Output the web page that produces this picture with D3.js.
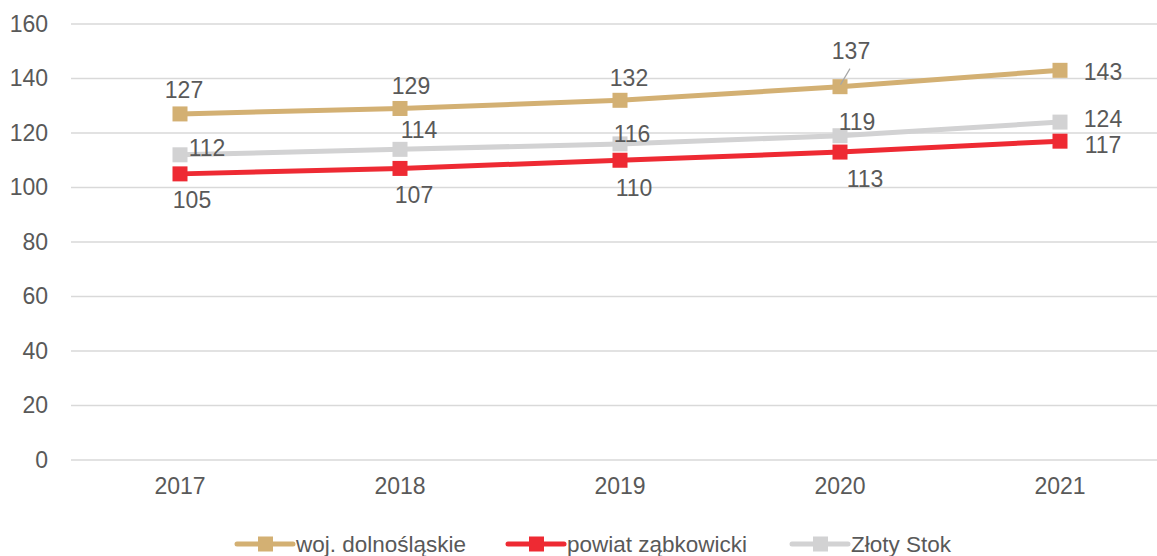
<!DOCTYPE html>
<html>
<head>
<meta charset="utf-8">
<script src="https://cdn.jsdelivr.net/npm/d3@7/dist/d3.min.js"></script>
<style>
  html, body { margin: 0; padding: 0; background: #fff; }
  svg { display: block; font-family: "Liberation Sans", Arial, sans-serif; }
</style>
</head>
<body>
<svg id="chart" width="1157" height="556"></svg>
<script>
// ---- data ----
const years = ["2017", "2018", "2019", "2020", "2021"];
const seriesNames = ["woj. dolnośląskie", "powiat ząbkowicki", "Złoty Stok"];
const wojValues = [127, 129, 132, 137, 143];
const powiatValues = [105, 107, 110, 113, 117];
const zlotyValues = [112, 114, 116, 119, 124];
const yTicks = [0, 20, 40, 60, 80, 100, 120, 140, 160];

// ---- styling / layout ----
const colors = ["#D3B073", "#EE2A33", "#D2D2D3"];
const textColor = "#595959";
const gridColor = "#D9D9D9";
// label nudges (px) relative to each point, per series
const labelNudges = [
  [[4, -24], [11, -23], [9, -23], [11, -36], [43, 1]],
  [[12, 26], [14, 26], [14, 27], [25, 27], [43, 4]],
  [[27, -7], [19, -20], [12, -10], [17, -14], [43, -3]]
];
const drawOrder = [2, 1, 0]; // gray first, then red, then gold on top

const series = [wojValues, powiatValues, zlotyValues].map((vals, i) => ({
  name: seriesNames[i], color: colors[i],
  points: vals.map((v, j) => ({ year: years[j], value: v, nudge: labelNudges[i][j] }))
}));

const svg = d3.select("#chart");
const x = d3.scaleBand().domain(years).range([70, 1170]).padding(0);
const y = d3.scaleLinear().domain([0, 160]).range([460, 24]);
const cx = d => x(d) + x.bandwidth() / 2;

// gridlines
svg.append("g").selectAll("line").data(yTicks).join("line")
  .attr("x1", 71).attr("x2", 1157)
  .attr("y1", d => y(d)).attr("y2", d => y(d))
  .attr("stroke", gridColor).attr("stroke-width", 1.5);

// y axis labels
const yAxis = svg.append("g").attr("transform", "translate(48,0)")
  .call(d3.axisLeft(y).tickValues(yTicks).tickSize(0).tickPadding(0));
yAxis.select(".domain").remove();
yAxis.selectAll("text").attr("fill", textColor).attr("font-size", 23)
  .attr("font-family", "Liberation Sans, Arial, sans-serif");

// x axis labels
const xAxis = svg.append("g").attr("transform", "translate(0,478)")
  .call(d3.axisBottom(x).tickSize(0).tickPadding(0));
xAxis.select(".domain").remove();
xAxis.selectAll("text").attr("fill", textColor).attr("font-size", 23)
  .attr("dy", "0.71em").attr("font-family", "Liberation Sans, Arial, sans-serif");

// lines + markers
const line = d3.line().x(d => cx(d.year)).y(d => y(d.value));
drawOrder.forEach(i => {
  const s = series[i];
  const g = svg.append("g");
  g.append("path").datum(s.points).attr("d", line)
    .attr("fill", "none").attr("stroke", s.color).attr("stroke-width", 5);
  g.selectAll("rect").data(s.points).join("rect")
    .attr("x", d => cx(d.year) - 7.5).attr("y", d => y(d.value) - 7.5)
    .attr("width", 15).attr("height", 15).attr("fill", s.color);
});

// leader line for 2020 gold label
{
  const p = series[0].points[3];
  svg.append("line")
    .attr("x1", cx(p.year) + 10).attr("y1", y(p.value) - 18)
    .attr("x2", cx(p.year) + 0.5).attr("y2", y(p.value) - 2)
    .attr("stroke", "#A6A6A6").attr("stroke-width", 1.2);
}

// data labels
series.forEach(s => {
  svg.append("g").selectAll("text").data(s.points).join("text")
    .attr("x", d => cx(d.year) + d.nudge[0])
    .attr("y", d => y(d.value) + d.nudge[1])
    .attr("dy", "0.36em")
    .attr("text-anchor", "middle")
    .attr("font-size", 23)
    .attr("fill", textColor)
    .text(d => d.value);
});

// legend
const legendX = [237, 508, 792];
const legend = svg.append("g");
series.forEach((s, i) => {
  const g = legend.append("g").attr("transform", `translate(${legendX[i]},544)`);
  g.append("line").attr("x1", 0).attr("x2", 56).attr("y1", 0).attr("y2", 0)
    .attr("stroke", s.color).attr("stroke-width", 5).attr("stroke-linecap", "round");
  g.append("rect").attr("x", 21).attr("y", -7.5).attr("width", 15).attr("height", 15).attr("fill", s.color);
  g.append("text").attr("x", 59).attr("y", 0).attr("dy", "0.36em")
    .attr("font-size", 22.5).attr("fill", textColor).text(s.name);
});
</script>
</body>
</html>
